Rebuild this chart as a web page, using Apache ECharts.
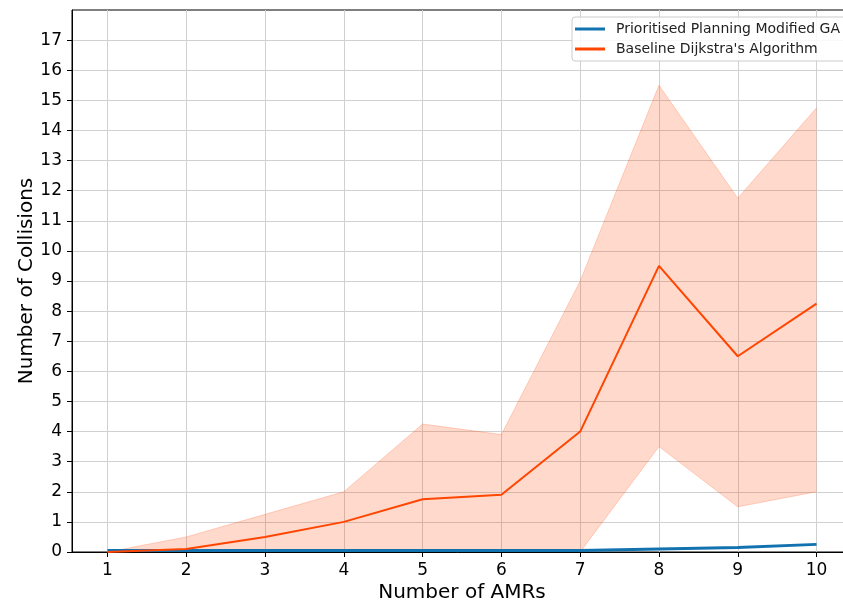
<!DOCTYPE html>
<html>
<head>
<meta charset="utf-8">
<script src="https://cdn.jsdelivr.net/npm/echarts@6/dist/echarts.min.js"></script>
<style>html,body{margin:0;padding:0;background:#fff;}#c{width:843px;height:604px;}</style>
</head>
<body>
<div id="c"></div>
<script>
const categories = [1, 2, 3, 4, 5, 6, 7, 8, 9, 10];
const gaMean = [0.05, 0.05, 0.05, 0.05, 0.05, 0.05, 0.05, 0.1, 0.15, 0.25];
const dijMean = [0, 0.1, 0.5, 1.0, 1.75, 1.9, 4.0, 9.5, 6.5, 8.25];
const dijUpper = [0, 0.5, 1.25, 2.0, 4.25, 3.9, 9.0, 15.5, 11.75, 14.75];
const dijLower = [0, 0, 0, 0, 0, 0, 0, 3.5, 1.5, 2.0];
const yTicks = [0, 1, 2, 3, 4, 5, 6, 7, 8, 9, 10, 11, 12, 13, 14, 15, 16, 17];

const FONT = 'DejaVu Sans';
const pairs = arr => categories.map((c, i) => [c, arr[i]]);
const bandData = categories.map((c, i) => [c, dijLower[i], dijUpper[i]]);

function renderBand(params, api) {
  if (params.dataIndex !== 0) return null;
  const up = categories.map((c, i) => api.coord([c, dijUpper[i]]));
  const lo = categories.map((c, i) => api.coord([c, dijLower[i]]));
  const poly = up.concat(lo.slice().reverse());
  const edge = 'rgba(255,69,0,0.22)';
  return {
    type: 'group',
    children: [
      {type: 'polygon', shape: {points: poly}, style: {fill: 'rgba(255,69,0,0.2)', stroke: null}},
      {type: 'polyline', shape: {points: up}, style: {fill: null, stroke: edge, lineWidth: 1}},
      {type: 'polyline', shape: {points: lo}, style: {fill: null, stroke: edge, lineWidth: 1}}
    ]
  };
}

const chart = echarts.init(document.getElementById('c'), null, {renderer: 'canvas'});
chart.setOption({
  animation: false,
  backgroundColor: '#fff',
  textStyle: {fontFamily: FONT},
  grid: {left: 72, top: 10, width: 780, height: 542, show: true, borderColor: '#000', borderWidth: 1,
         backgroundColor: 'transparent', outerBoundsMode: 'none', containLabel: false},
  legend: {
    orient: 'vertical', left: 572, top: 17,
    padding: [4, 8, 4, 3],
    itemWidth: 30, itemHeight: 3, itemGap: 4,
    icon: 'rect',
    backgroundColor: 'rgba(255,255,255,0.85)', borderColor: '#cccccc', borderWidth: 1, borderRadius: 3,
    textStyle: {fontFamily: FONT, fontSize: 14, color: '#222', lineHeight: 16, padding: [0, 0, 0, 6]},
    data: ['Prioritised Planning Modified GA', "Baseline Dijkstra's Algorithm"]
  },
  xAxis: {
    type: 'value', min: 0.55, max: 10.45,
    name: 'Number of AMRs', nameLocation: 'middle', nameGap: 31, nameMoveOverlap: false,
    nameTextStyle: {fontFamily: FONT, fontSize: 20, color: '#000'},
    axisLine: {show: true, onZero: false, lineStyle: {color: '#000', width: 1}},
    axisTick: {show: true, length: 5, lineStyle: {color: '#000'}, customValues: categories},
    axisLabel: {fontFamily: FONT, fontSize: 17, color: '#000', margin: 10, customValues: categories},
    splitLine: {show: true, lineStyle: {color: '#d0d0d0', width: 1}}
  },
  yAxis: {
    type: 'value', min: 0, max: 18, interval: 1,
    name: 'Number of Collisions', nameLocation: 'middle', nameGap: 35, nameMoveOverlap: false,
    nameTextStyle: {fontFamily: FONT, fontSize: 20, color: '#000'},
    axisLine: {show: true, onZero: false, lineStyle: {color: '#000', width: 1}},
    axisTick: {show: true, length: 5, lineStyle: {color: '#000'}, customValues: yTicks},
    axisLabel: {fontFamily: FONT, fontSize: 17, color: '#000', margin: 10, customValues: yTicks},
    splitLine: {show: true, lineStyle: {color: '#d0d0d0', width: 1}}
  },
  series: [
    {
      name: 'band', type: 'custom', data: bandData, renderItem: renderBand,
      silent: true, z: 1, clip: true,
      encode: {x: 0, y: [1, 2]}
    },
    {
      name: 'Prioritised Planning Modified GA', type: 'line', data: pairs(gaMean),
      symbol: 'none', z: 3, color: '#1272B0',
      lineStyle: {color: '#1272B0', width: 2.8}
    },
    {
      name: "Baseline Dijkstra's Algorithm", type: 'line', data: pairs(dijMean),
      symbol: 'none', z: 4, color: '#FF4500',
      lineStyle: {color: '#FF4500', width: 2}
    }
  ]
});
</script>
</body>
</html>
